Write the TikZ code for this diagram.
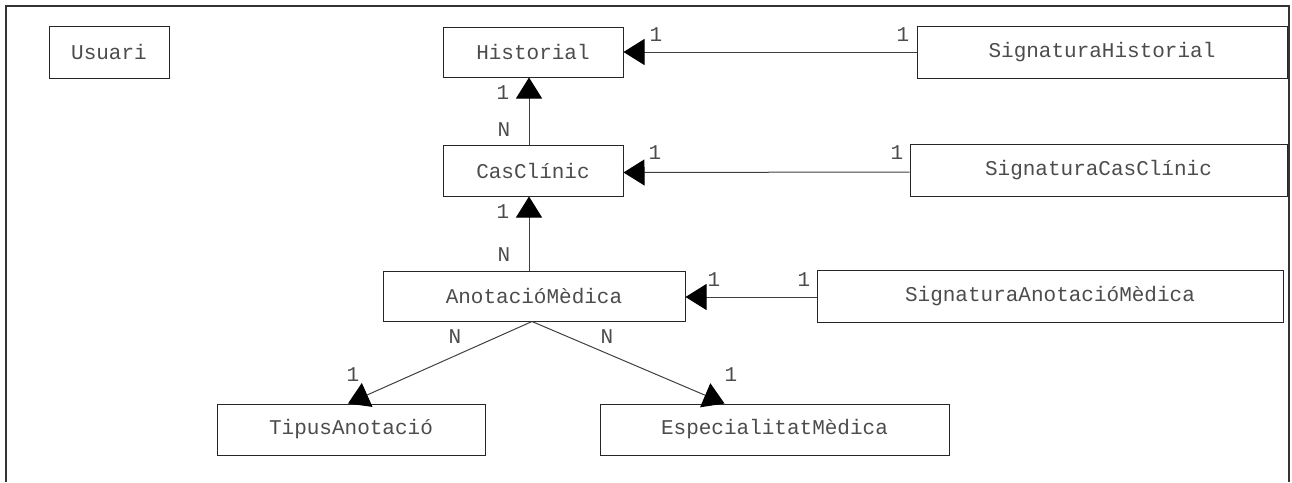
\documentclass[tikz,border=0pt]{standalone}
\usepackage{fontspec}
\setmonofont{Liberation Mono}
\usetikzlibrary{arrows.meta,calc}
\tikzset{
  entity/.style={draw=black!85, line width=1pt, inner sep=0pt, minimum height=50pt,
    font=\ttfamily\fontsize{21pt}{21pt}\selectfont, text=black!70},
  card/.style={inner sep=0pt, font=\ttfamily\fontsize{21pt}{21pt}\selectfont, text=black!70},
  rel/.style={draw=black!75, line width=1pt,
    -{Triangle[length=21pt,width=26pt,color=black]}},
}
\begin{document}
\begin{tikzpicture}[x=1pt,y=-1pt]
\useasboundingbox (0,0) rectangle (1292,482);
% open frame
\draw[line width=1.2pt, black!80] (6,482) -- (6,6) -- (1289,6) -- (1289,482);

% entities
\node[entity, minimum width=120pt, minimum height=52pt] (usuari) at (109,52) {Usuari};
\node[entity, minimum width=180pt] (hist) at (533,52) {Historial};
\node[entity, minimum width=370pt, minimum height=52pt] (sighist) at (1102,52) {SignaturaHistorial};
\node[entity, minimum width=180pt, minimum height=51pt] (cas) at (533,170.5) {CasClínic};
\node[entity, minimum width=377pt, minimum height=52pt] (sigcas) at (1098.5,170) {SignaturaCasClínic};
\node[entity, minimum width=302pt] (anot) at (534,296) {AnotacióMèdica};
\node[entity, minimum width=466pt, minimum height=52pt] (siganot) at (1050,296) {SignaturaAnotacióMèdica};
\node[entity, minimum width=268pt, minimum height=51pt] (tipus) at (351,429.5) {TipusAnotació};
\node[entity, minimum width=349pt, minimum height=51pt] (esp) at (774.5,429.5) {EspecialitatMèdica};

% relations
\draw[rel] (sighist.west) -- (hist.east);
\draw[rel] ([yshift=-2pt]sigcas.west) -- ([yshift=-2pt]cas.east);
\draw[rel] ([yshift=-1pt]siganot.west) -- ([yshift=-1pt]anot.east);
\draw[rel] ([xshift=-4pt]cas.north) -- ([xshift=-4pt]hist.south);
\draw[rel] ([xshift=-5pt]anot.north) -- ([xshift=-4pt]cas.south);
\draw[rel] ([xshift=-2pt]anot.south) -- ([xshift=-3pt]tipus.north);
\draw[rel] ([xshift=-2pt]anot.south) -- ([xshift=-50pt]esp.north);

% cardinalities
\node[card] (c1) at (656,35) {1};
\node[card] (c2) at (903,35) {1};
\node[card] (c3) at (655,153) {1};
\node[card] (c4) at (897,153) {1};
\node[card] (c5) at (714,280) {1};
\node[card] (c6) at (804,280) {1};
\node[card] (c7) at (503,93) {1};
\node[card] (c8) at (504,130) {N};
\node[card] (c9) at (503,212) {1};
\node[card] (c10) at (504,255) {N};
\node[card] (c11) at (455,337) {N};
\node[card] (c12) at (607,337) {N};
\node[card] (c13) at (353,375) {1};
\node[card] (c14) at (731,375) {1};
\end{tikzpicture}
\end{document}
